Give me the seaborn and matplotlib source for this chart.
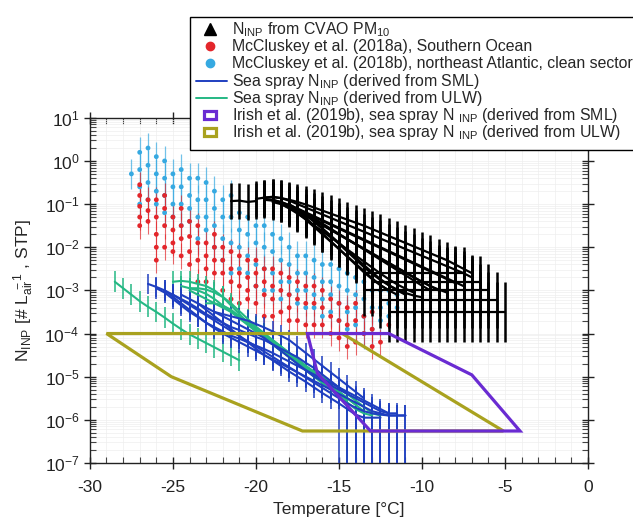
import numpy as np
import pandas as pd
import matplotlib
matplotlib.use('Agg')
import matplotlib.pyplot as plt
import seaborn as sns
from matplotlib.lines import Line2D
from matplotlib.patches import Rectangle
from matplotlib.ticker import MultipleLocator, LogLocator, NullFormatter

nan = np.nan

# ---- CVAO PM10 (black), log10 N_INP on a shared 0.5 degC grid ----
cvao_temp = [-21.5, -21.0, -20.5, -20.0, -19.5, -19.0, -18.5, -18.0, -17.5, -17.0,
             -16.5, -16.0, -15.5, -15.0, -14.5, -14.0, -13.5, -13.0, -12.5, -12.0,
             -11.5, -11.0, -10.5, -10.0, -9.5, -9.0, -8.5, -8.0, -7.5, -7.0,
             -6.5, -6.0, -5.5, -5.0]
cvao_c1 = [-0.93, -0.92, -0.95, -0.93] + [nan] * 30
cvao_c2 = [nan] * 3 + [-0.88, -0.85, -0.83, -0.86, -0.92, -1.0, -1.08, -1.16, -1.24, -1.32,
                       -1.4, -1.48, -1.56, -1.64, -1.72, -1.8, -1.88, -1.96, -2.04, -2.12,
                       -2.2, -2.28, -2.36, -2.44, -2.52, -2.6, -2.7] + [nan] * 4
cvao_c3 = [nan] * 4 + [-0.9, -0.92, -0.97, -1.04, -1.12, -1.21, -1.3, -1.39, -1.48, -1.57,
                       -1.66, -1.75, -1.84, -1.93, -2.02, -2.11, -2.2, -2.29, -2.38, -2.47,
                       -2.56, -2.65, -2.74, -2.83] + [nan] * 6
cvao_c4 = [nan] * 5 + [-0.95, -1.0, -1.08, -1.17, -1.27, -1.38, -1.49, -1.6, -1.71, -1.82,
                       -1.93, -2.04, -2.15, -2.26, -2.37, -2.48, -2.59, -2.7, -2.8, -2.9,
                       -3.0] + [nan] * 8
cvao_c5 = [nan] * 6 + [-1.0, -1.1, -1.22, -1.35, -1.49, -1.63, -1.77, -1.91, -2.05, -2.19,
                       -2.33, -2.47, -2.61, -2.74, -2.86, -2.96, -3.05] + [nan] * 11
cvao_c6 = [nan] * 7 + [-1.05, -1.2, -1.36, -1.53, -1.7, -1.87, -2.04, -2.21, -2.38, -2.55,
                       -2.72, -2.88, -3.0] + [nan] * 14
cvao_c7 = [nan] * 4 + [-0.85, -0.84, -0.86, -0.9, -0.95, -1.01, -1.08, -1.15, -1.22, -1.29,
                       -1.36, -1.43, -1.5, -1.58, -1.66, -1.74, -1.82, -1.9, -1.98, -2.06,
                       -2.14, -2.22, -2.3, -2.4, -2.5, -2.6] + [nan] * 4
cvao_c8 = [nan] * 5 + [-0.9, -0.95, -1.02, -1.1, -1.19, -1.28, -1.37, -1.46, -1.55, -1.64,
                       -1.73, -1.82, -1.91, -2.0, -2.09, -2.18, -2.27, -2.36, -2.45, -2.54,
                       -2.63, -2.72, -2.81, -2.9] + [nan] * 5
cvao_c9 = [nan] * 6 + [-0.95, -1.03, -1.12, -1.22, -1.33, -1.45, -1.57, -1.69, -1.81, -1.93,
                       -2.05, -2.17, -2.29, -2.41, -2.53, -2.65, -2.77, -2.89, -3.0] + [nan] * 9
cvao_c10 = [nan] * 8 + [-1.15, -1.32, -1.5, -1.68, -1.86, -2.04, -2.22, -2.4, -2.58, -2.74,
                        -2.88, -3.0, -3.1] + [nan] * 13
cvao_c11 = [nan] * 4 + [-0.88, -0.9, -0.96, -1.05, -1.15, -1.26, -1.37, -1.48, -1.59, -1.7,
                        -1.81, -1.92, -2.03, -2.14, -2.25, -2.36, -2.47, -2.58, -2.69, -2.8,
                        -2.9, -2.98, -3.05] + [nan] * 7
cvao_c12 = [nan] * 7 + [-1.0, -1.12, -1.26, -1.41, -1.57, -1.73, -1.9, -2.07, -2.24, -2.41,
                        -2.58, -2.74, -2.88, -3.0, -3.1] + [nan] * 12
cvao_c13 = [nan] * 9 + [-1.2, -1.38, -1.56, -1.74, -1.92, -2.1, -2.28, -2.46, -2.62, -2.76,
                        -2.88, -2.98, -3.06, -3.12, -3.16] + [nan] * 10
# detection-limit plateaus
cvao_c14 = [nan] * 16 + [-2.6, -2.6, -2.6, -2.6, -2.6, -2.6, -2.6, -2.6, -2.6, -2.6,
                         -2.6, -2.6, -2.6] + [nan] * 5
cvao_c15 = [nan] * 17 + [-2.8, -2.8, -2.8, -2.8, -2.8, -2.8, -2.8, -2.8, -2.8, -2.8,
                         -2.8, -2.8, -2.8, -2.8] + [nan] * 3
cvao_c16 = [nan] * 16 + [-3.0, -3.0, -3.0, -3.0, -3.0, -3.0, -3.0, -3.0, -3.0, -3.0,
                         -3.0, -3.0, -3.0, -3.0, -3.0, -3.0] + [nan] * 2
cvao_c17 = [nan] * 18 + [-3.22, -3.22, -3.22, -3.22, -3.22, -3.22, -3.22, -3.22, -3.22, -3.22,
                         -3.22, -3.22, -3.22, -3.22, -3.22] + [nan] * 1
cvao_c18 = [nan] * 19 + [-3.5, -3.5, -3.5, -3.5, -3.5, -3.5, -3.5, -3.5, -3.5, -3.5,
                         -3.5, -3.5, -3.5, -3.5, -3.5]
cvao_curves = [cvao_c1, cvao_c2, cvao_c3, cvao_c4, cvao_c5, cvao_c6, cvao_c7, cvao_c8,
               cvao_c9, cvao_c10, cvao_c11, cvao_c12, cvao_c13, cvao_c14, cvao_c15,
               cvao_c16, cvao_c17, cvao_c18]
cvao_err_dex = [0.42, 0.42, 0.42, 0.42, 0.42, 0.42, 0.42, 0.42, 0.42, 0.42,
                0.42, 0.42, 0.42, 0.6, 0.6, 0.6, 0.65, 0.7]

# ---- McCluskey et al. (2018a), Southern Ocean (red), log10 N_INP ----
mcc_a_temp = [-27, -27, -27, -27, -27,
              -26.5, -26.5, -26.5,
              -26, -26, -26, -26, -26,
              -25.5, -25.5, -25.5, -25.5,
              -25, -25, -25, -25,
              -24.5, -24.5, -24.5, -24.5,
              -24, -24, -24, -24,
              -23.5, -23.5, -23.5, -23.5,
              -23, -23, -23, -23,
              -22.5, -22.5, -22.5, -22.5,
              -22, -22, -22, -22,
              -21.5, -21.5, -21.5, -21.5,
              -21, -21, -21, -21,
              -20.5, -20.5, -20.5, -20.5,
              -20, -20, -20, -20,
              -19.5, -19.5, -19.5, -19.5,
              -19, -19, -19, -19,
              -18.5, -18.5, -18.5,
              -18, -18, -18, -18,
              -17.5, -17.5, -17.5,
              -17, -17, -17,
              -16.5, -16.5, -16.5,
              -16, -16, -16,
              -15.5, -15.5, -15.5,
              -15, -15, -15,
              -14.5, -14.5, -14.5,
              -14, -14, -14,
              -13.5, -13.5,
              -13, -13, -13,
              -12.5,
              -12]
mcc_a_log = [-0.55, -0.8, -1.05, -1.3, -1.5,
             -0.9, -1.15, -1.4,
             -0.9, -1.3, -1.7, -2.0, -2.3,
             -0.8, -1.1, -1.5, -2.0,
             -1.3, -1.6, -1.9, -2.1,
             -1.1, -1.5, -1.8, -2.2,
             -1.4, -1.75, -2.1, -2.4,
             -1.5, -1.9, -2.3, -2.8,
             -1.9, -2.2, -2.5, -2.8,
             -1.7, -2.0, -2.3, -2.6,
             -2.0, -2.3, -2.6, -3.0,
             -2.1, -2.5, -2.8, -3.2,
             -2.2, -2.6, -2.9, -3.3,
             -2.3, -2.7, -3.0, -3.2,
             -2.3, -2.6, -2.9, -3.3,
             -2.5, -2.8, -3.1, -3.6,
             -2.5, -2.9, -3.2, -3.6,
             -2.6, -3.0, -3.5,
             -2.7, -3.1, -3.4, -3.7,
             -2.8, -3.2, -3.7,
             -2.9, -3.3, -3.8,
             -2.9, -3.3, -3.8,
             -3.0, -3.4, -3.8,
             -3.2, -3.6, -4.0,
             -3.3, -3.7, -4.1,
             -3.4, -3.8, -4.3,
             -3.3, -3.7, -4.2,
             -3.6, -4.0,
             -3.5, -3.9, -4.3,
             -4.2,
             -3.8]
mcc_a_err_dex = 0.3

# ---- McCluskey et al. (2018b), NE Atlantic clean sector (light blue) ----
mcc_b_temp = [-27.5,
              -27, -27, -27, -27,
              -26.5, -26.5, -26.5, -26.5,
              -26, -26, -26, -26,
              -25.5, -25.5, -25.5, -25.5,
              -25, -25, -25, -25,
              -24.5, -24.5, -24.5, -24.5,
              -24, -24, -24, -24,
              -23.5, -23.5, -23.5, -23.5,
              -23, -23, -23, -23,
              -22.5, -22.5, -22.5, -22.5,
              -22, -22, -22, -22,
              -21.5, -21.5, -21.5, -21.5,
              -21, -21, -21, -21,
              -20.5, -20.5, -20.5, -20.5,
              -20, -20, -20, -20,
              -19.5, -19.5, -19.5, -19.5,
              -19, -19, -19, -19,
              -18.5, -18.5, -18.5, -18.5,
              -18, -18, -18, -18,
              -17.5, -17.5, -17.5, -17.5,
              -17, -17, -17, -17,
              -16.5, -16.5, -16.5, -16.5,
              -16, -16, -16, -16,
              -15.5, -15.5, -15.5, -15.5,
              -15, -15, -15, -15,
              -14.5, -14.5, -14.5, -14.5,
              -14, -14, -14, -14,
              -13.5, -13.5, -13.5, -13.5,
              -13, -13, -13,
              -12.5, -12.5, -12.5,
              -12, -12, -12,
              -11.5, -11.5]
mcc_b_log = [-0.3,
             0.2, -0.2, -0.6, -1.0,
             0.3, -0.1, -0.5, -0.9,
             0.1, -0.3, -0.7, -1.0,
             0.0, -0.4, -0.8, -1.2,
             -0.3, -0.6, -1.0, -1.3,
             -0.2, -0.6, -1.0, -1.5,
             -0.4, -0.8, -1.1, -1.4,
             -0.4, -0.9, -1.3, -1.8,
             -0.5, -0.9, -1.3, -1.6,
             -0.7, -1.1, -1.5, -2.0,
             -0.9, -1.3, -1.8, -2.3,
             -0.8, -1.3, -1.9, -2.6,
             -1.2, -1.6, -2.0, -2.5,
             -1.3, -1.7, -2.2, -2.6,
             -1.5, -1.9, -2.4, -2.9,
             -1.5, -2.0, -2.5, -3.0,
             -1.7, -2.1, -2.6, -3.0,
             -1.8, -2.3, -2.8, -3.2,
             -2.0, -2.4, -2.8, -3.1,
             -2.2, -2.6, -3.0, -3.3,
             -2.2, -2.6, -3.0, -3.4,
             -2.3, -2.7, -3.1, -3.4,
             -2.4, -2.8, -3.2, -3.6,
             -2.4, -2.8, -3.1, -3.5,
             -2.5, -2.9, -3.3, -3.7,
             -2.6, -3.0, -3.5, -3.9,
             -2.7, -3.1, -3.4, -3.8,
             -2.8, -3.2, -3.6, -4.0,
             -3.0, -3.4, -3.9,
             -3.0, -3.4, -3.7,
             -3.0, -3.3, -3.6,
             -3.1, -3.4]
mcc_b_err_dex = 0.35

# ---- Sea spray N_INP (SML: blue, ULW: green), log10 on a shared grid ----
ss_temp = [-28.5, -28.0, -27.5, -27.0, -26.5, -26.0, -25.5, -25.0, -24.5, -24.0,
           -23.5, -23.0, -22.5, -22.0, -21.5, -21.0, -20.5, -20.0, -19.5, -19.0,
           -18.5, -18.0, -17.5, -17.0, -16.5, -16.0, -15.5, -15.0, -14.5, -14.0,
           -13.5, -13.0, -12.5, -12.0, -11.5, -11.0]
sml_s1 = [nan] * 4 + [-2.85, -2.92, -3.0, -3.1, -3.2, -3.3, -3.42, -3.55, -3.65, -3.75,
                      -3.85, -3.92, -4.0, -4.08, -4.15, -4.25, -4.35, -4.45, -4.55, -4.68,
                      -4.8, -4.95, -5.1, -5.25, -5.4] + [nan] * 7
sml_s2 = [nan] * 5 + [-2.95, -3.05, -3.2, -3.35, -3.5, -3.62, -3.75, -3.85, -3.95, -4.05,
                      -4.12, -4.2, -4.28, -4.36, -4.45, -4.55, -4.65, -4.75, -4.85, -4.95,
                      -5.05, -5.15, -5.25, -5.35, -5.45, -5.55, -5.65, -5.75, -5.85] + [nan] * 2
sml_s3 = [nan] * 6 + [-3.0, -3.15, -3.3, -3.45, -3.6, -3.75, -3.88, -4.0, -4.1, -4.2,
                      -4.3, -4.4, -4.5, -4.6, -4.7, -4.8, -4.9, -5.0, -5.1, -5.2,
                      -5.3, -5.4, -5.5, -5.6, -5.7, -5.8, -5.85, -5.9, -5.9, -5.9]
sml_s4 = [nan] * 8 + [-3.1, -3.2, -3.3, -3.4, -3.5, -3.6, -3.7, -3.8, -3.9, -4.0,
                      -4.1, -4.25, -4.4, -4.55, -4.7, -4.85, -5.0, -5.1, -5.2, -5.3,
                      -5.4, -5.5, -5.6, -5.7, -5.8, -5.85, -5.85] + [nan] * 1
sml_s5 = [nan] * 10 + [-3.3, -3.45, -3.6, -3.75, -3.9, -4.05, -4.2, -4.35, -4.5, -4.62,
                       -4.75, -4.88, -5.0, -5.12, -5.25, -5.38, -5.5, -5.62, -5.75, -5.88,
                       -5.95, -5.95, -5.95] + [nan] * 3
sml_s6 = [nan] * 12 + [-3.5, -3.55, -3.6, -3.65, -3.7, -3.78, -3.86, -3.95, -4.05, -4.15,
                       -4.3, -4.45, -4.6, -4.75, -4.9, -5.05, -5.2, -5.35, -5.5] + [nan] * 5
sml_s7 = [nan] * 7 + [-3.1, -3.22, -3.34, -3.46, -3.58, -3.7, -3.82, -3.94, -4.06, -4.18,
                      -4.3, -4.42, -4.54, -4.66, -4.78, -4.9, -5.02, -5.14, -5.26, -5.38,
                      -5.5, -5.62, -5.72, -5.8, -5.85, -5.88, -5.9, -5.9, -5.9]
sml_curves = [sml_s1, sml_s2, sml_s3, sml_s4, sml_s5, sml_s6, sml_s7]

ulw_g1 = [-2.8, -2.95, -3.1, -3.25, -3.38, -3.5, -3.63, -3.77, -3.9, -4.02,
          -4.12, -4.22, -4.32, -4.42, -4.52, -4.62] + [nan] * 20
ulw_g2 = [nan] * 7 + [-2.8, -2.78, -2.8, -2.85, -2.9, -3.0, -3.15, -3.35, -3.55, -3.75,
                      -3.95, -4.1, -4.25, -4.4, -4.55, -4.7, -4.85, -5.0, -5.15, -5.3,
                      -5.45, -5.6, -5.75, -5.85, -5.9] + [nan] * 4
ulw_g3 = [nan] * 8 + [-2.9, -2.95, -3.0, -3.08, -3.2, -3.35, -3.5, -3.65, -3.8, -3.95,
                      -4.1, -4.25, -4.4, -4.52, -4.64, -4.76, -4.88, -5.0, -5.12, -5.25,
                      -5.4, -5.55, -5.7, -5.85, -5.9] + [nan] * 3
ulw_g4 = [nan] * 9 + [-3.0, -3.1, -3.2, -3.3, -3.4, -3.5, -3.6, -3.72, -3.85, -4.0,
                      -4.15, -4.3, -4.45, -4.6, -4.75, -4.9, -5.05, -5.2, -5.35, -5.5,
                      -5.65] + [nan] * 6
ulw_g5 = [nan] * 11 + [-3.3, -3.3, -3.35, -3.45, -3.6, -3.75, -3.9, -4.05, -4.2, -4.35,
                       -4.5, -4.65, -4.8, -4.95, -5.1, -5.25, -5.4, -5.55] + [nan] * 7
ulw_g6 = [nan] * 9 + [-2.95, -2.95, -2.98, -3.05, -3.15, -3.3, -3.48, -3.66, -3.84, -4.0,
                      -4.15, -4.3, -4.45, -4.6, -4.75, -4.9, -5.05, -5.2, -5.35, -5.5,
                      -5.65, -5.8] + [nan] * 5
ulw_curves = [ulw_g1, ulw_g2, ulw_g3, ulw_g4, ulw_g5, ulw_g6]
ss_err_dex = 0.24
ss_detect_log = -5.6      # points at/below this sit at the detection limit
ss_detect_floor = 1e-8    # their lower error bar runs off the axis

# ---- Irish et al. (2019b) sea spray ranges (polygons) ----
irish_sml_temp = [-16.9, -16.3, -13.1, -4.1, -7.0, -12.0]
irish_sml_n = [1e-4, 1.2e-5, 5.5e-7, 5.5e-7, 1.1e-5, 1e-4]
irish_ulw_temp = [-29.0, -25.1, -17.2, -5.1, -14.8]
irish_ulw_n = [1e-4, 1e-5, 5.5e-7, 5.5e-7, 1e-4]

legend_labels = [
    r'N$_\mathrm{INP}$ from CVAO PM$_\mathrm{10}$',
    'McCluskey et al. (2018a), Southern Ocean',
    'McCluskey et al. (2018b), northeast Atlantic, clean sector',
    r'Sea spray N$_\mathrm{INP}$ (derived from SML)',
    r'Sea spray N$_\mathrm{INP}$ (derived from ULW)',
    r'Irish et al. (2019b), sea spray N $_\mathrm{INP}$ (derived from SML)',
    r'Irish et al. (2019b), sea spray N $_\mathrm{INP}$ (derived from ULW)',
]

# colours
c_cvao = 'black'
c_red = '#e3262b'
c_lblue = '#36a9e1'
c_sml = '#1f3fc0'
c_ulw = '#25b884'
c_purple = '#6a2bd2'
c_olive = '#a9a21f'


def curves_to_long(temps, curves, err_dex):
    rows = []
    for i, vals in enumerate(curves):
        e = err_dex[i] if np.ndim(err_dex) else err_dex
        for t, v in zip(temps, vals):
            if not np.isnan(v):
                rows.append((i, t, v, e))
    df = pd.DataFrame(rows, columns=['curve', 'temp', 'logn', 'err'])
    df['ninp'] = 10.0 ** df['logn']
    df['lo'] = 10.0 ** (df['logn'] - df['err'])
    df['hi'] = 10.0 ** (df['logn'] + df['err'])
    return df


def points_to_df(temps, logs, err):
    df = pd.DataFrame({'temp': temps, 'logn': logs})
    df['ninp'] = 10.0 ** df['logn']
    df['lo'] = 10.0 ** (df['logn'] - err)
    df['hi'] = 10.0 ** (df['logn'] + err)
    return df


cvao_df = curves_to_long(cvao_temp, cvao_curves, cvao_err_dex)
sml_df = curves_to_long(ss_temp, sml_curves, ss_err_dex)
ulw_df = curves_to_long(ss_temp, ulw_curves, ss_err_dex)
for d in (sml_df, ulw_df):
    d.loc[d['logn'] <= ss_detect_log, 'lo'] = ss_detect_floor
red_df = points_to_df(mcc_a_temp, mcc_a_log, mcc_a_err_dex)
lblue_df = points_to_df(mcc_b_temp, mcc_b_log, mcc_b_err_dex)

# ---- plotting ----
sns.set_theme(style='ticks')
plt.rcParams['font.family'] = ['Liberation Sans', 'DejaVu Sans']
plt.rcParams['mathtext.fontset'] = 'custom'
plt.rcParams['mathtext.rm'] = 'Liberation Sans'
plt.rcParams['mathtext.it'] = 'Liberation Sans:italic'
plt.rcParams['mathtext.bf'] = 'Liberation Sans:bold'
plt.rcParams['axes.unicode_minus'] = False

W, H = 633, 519
fig = plt.figure(figsize=(W / 100, H / 100), dpi=100)
ax = fig.add_axes([0.142, 0.108, 0.787, 0.665])
ax.set_yscale('log')


def draw_bars(df, color, lw, z, alpha=1.0):
    ax.errorbar(df['temp'], df['ninp'],
                yerr=[df['ninp'] - df['lo'], df['hi'] - df['ninp']],
                fmt='none', ecolor=color, elinewidth=lw, capsize=0,
                alpha=alpha, zorder=z)


# McCluskey points
draw_bars(lblue_df, c_lblue, 0.9, 2, alpha=0.7)
draw_bars(red_df, c_red, 0.8, 2, alpha=0.7)
sns.scatterplot(data=lblue_df, x='temp', y='ninp', color=c_lblue, s=12,
                edgecolor='none', legend=False, ax=ax, zorder=3)
sns.scatterplot(data=red_df, x='temp', y='ninp', color=c_red, s=12,
                edgecolor='none', legend=False, ax=ax, zorder=3)

# sea spray curves
draw_bars(ulw_df, c_ulw, 1.1, 3)
draw_bars(sml_df, c_sml, 1.1, 3)
sns.lineplot(data=ulw_df, x='temp', y='ninp', units='curve', estimator=None,
             color=c_ulw, lw=1.5, legend=False, ax=ax, zorder=3)
sns.lineplot(data=sml_df, x='temp', y='ninp', units='curve', estimator=None,
             color=c_sml, lw=1.5, legend=False, ax=ax, zorder=3)

# CVAO
draw_bars(cvao_df, c_cvao, 1.8, 4)
sns.lineplot(data=cvao_df, x='temp', y='ninp', units='curve', estimator=None,
             color=c_cvao, lw=1.6, legend=False, ax=ax, zorder=4)

# Irish et al. polygons
ax.fill(irish_ulw_temp, irish_ulw_n, fill=False, edgecolor=c_olive, lw=2.3, zorder=5)
ax.fill(irish_sml_temp, irish_sml_n, fill=False, edgecolor=c_purple, lw=2.3, zorder=6)

ax.set_xlim(-30, 0)
ax.set_ylim(1e-7, 1e1)
ax.xaxis.set_major_locator(MultipleLocator(5))
ax.xaxis.set_minor_locator(MultipleLocator(1))
ax.yaxis.set_major_locator(LogLocator(base=10, numticks=20))
ax.yaxis.set_minor_locator(LogLocator(base=10, subs=np.arange(2, 10), numticks=20))
ax.yaxis.set_minor_formatter(NullFormatter())
ax.tick_params(which='major', direction='inout', length=8, width=1, colors='#222222',
               top=True, right=True, labelsize=12.5)
ax.tick_params(axis='x', which='major', pad=8)
ax.tick_params(which='minor', direction='in', length=4, width=0.8, colors='#444444',
               top=True, right=True)
ax.grid(True, which='both', color='#eeeeee', lw=0.5)
for s in ax.spines.values():
    s.set_linewidth(1.0)
    s.set_color('#222222')

ax.set_xlabel('Temperature [°C]', fontsize=12.5, labelpad=5)
ax.set_ylabel(r'N$_\mathrm{INP}$ [# L$_\mathrm{air}^{\ -1}$ , STP]', fontsize=12.5, labelpad=6)

# ---- legend box drawn in figure pixels so the rows stay evenly spaced ----
def fx(px):
    return px / W


def fy(py):
    return 1 - py / H


box_left, box_top, box_bottom, box_right = 190, 17, 150, 650
row_top, row_step = 29, 17.2
hand_x, text_x = 210, 232
fig.add_artist(Rectangle((fx(box_left), fy(box_bottom)), fx(box_right - box_left),
                         (box_bottom - box_top) / H, transform=fig.transFigure,
                         facecolor='white', edgecolor='black', lw=1.0, zorder=20))
for i, lab in enumerate(legend_labels):
    yc = row_top + i * row_step
    if i == 0:
        h = Line2D([fx(hand_x)], [fy(yc)], marker='^', color=c_cvao, ms=8, ls='none')
    elif i in (1, 2):
        col = c_red if i == 1 else c_lblue
        h = Line2D([fx(hand_x)], [fy(yc)], marker='o', color=col, ms=6, ls='none')
    elif i in (3, 4):
        col = c_sml if i == 3 else c_ulw
        h = Line2D([fx(196), fx(227)], [fy(yc), fy(yc)], color=col, lw=1.4)
    else:
        col = c_purple if i == 5 else c_olive
        h = Rectangle((fx(hand_x - 6), fy(yc + 4)), fx(12), 8 / H,
                      facecolor='white', edgecolor=col, lw=2.3)
    h.set_transform(fig.transFigure)
    h.set_zorder(21)
    fig.add_artist(h)
    fig.text(fx(text_x), fy(yc + 5), lab, fontsize=11.4, va='baseline', ha='left',
             zorder=21)

fig.savefig('out.png', dpi=100, facecolor='white')
